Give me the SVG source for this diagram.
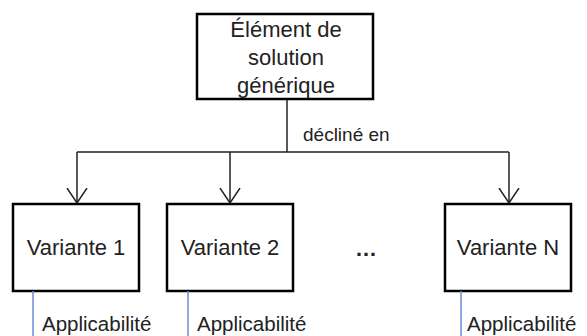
<svg xmlns="http://www.w3.org/2000/svg" width="587" height="336" viewBox="0 0 587 336">
<style>
.box{fill:#fff;stroke:#000;stroke-width:2.5}
.t{font-family:"Liberation Sans",Arial,sans-serif;font-size:22px;fill:#222;text-anchor:middle}
.lbl{font-family:"Liberation Sans",Arial,sans-serif;font-size:19px;fill:#222}
.app{font-family:"Liberation Sans",Arial,sans-serif;font-size:20.5px;fill:#222}
.c{fill:none;stroke:#222;stroke-width:1.5}
.b{stroke:#6a8ed6;stroke-width:1.5}
</style>
<defs>
<marker id="open" viewBox="0 0 16 22" refX="15" refY="11" markerWidth="16" markerHeight="22" markerUnits="userSpaceOnUse" orient="auto">
<path d="M0,1 L15,11 L0,21" fill="none" stroke="#222" stroke-width="1.5"/>
</marker>
</defs>
<g id="connectors">
<path class="c" d="M287,99 V152"/>
<path class="c" d="M77,152 H509"/>
<path class="c" d="M77,152 V203" marker-end="url(#open)"/>
<path class="c" d="M230,152 V203" marker-end="url(#open)"/>
<path class="c" d="M509,152 V203" marker-end="url(#open)"/>
<text class="lbl" x="303" y="141">décliné en</text>
</g>
<g id="generic">
<rect class="box" x="197" y="14" width="176" height="85" stroke-width="2"/>
<text class="t" x="286" y="37">Élément de</text>
<text class="t" x="286" y="65">solution</text>
<text class="t" x="286" y="93">générique</text>
</g>
<g id="variant1">
<rect class="box" x="13" y="204" width="126" height="87"/>
<text class="t" x="76" y="255">Variante 1</text>
</g>
<g id="variant2">
<rect class="box" x="167" y="204" width="126" height="87"/>
<text class="t" x="230" y="255">Variante 2</text>
</g>
<g id="ellipsis">
<text class="t" x="366" y="256" font-weight="bold" font-size="24">…</text>
</g>
<g id="variantN">
<rect class="box" x="445" y="204" width="126" height="87"/>
<text class="t" x="508" y="255">Variante N</text>
</g>
<g id="applicability1">
<line class="b" x1="33" y1="291" x2="33" y2="336"/>
<text class="app" x="42" y="331">Applicabilité</text>
</g>
<g id="applicability2">
<line class="b" x1="188" y1="291" x2="188" y2="336"/>
<text class="app" x="197" y="331">Applicabilité</text>
</g>
<g id="applicabilityN">
<line class="b" x1="461" y1="291" x2="461" y2="336"/>
<text class="app" x="467" y="331">Applicabilité</text>
</g>
</svg>
